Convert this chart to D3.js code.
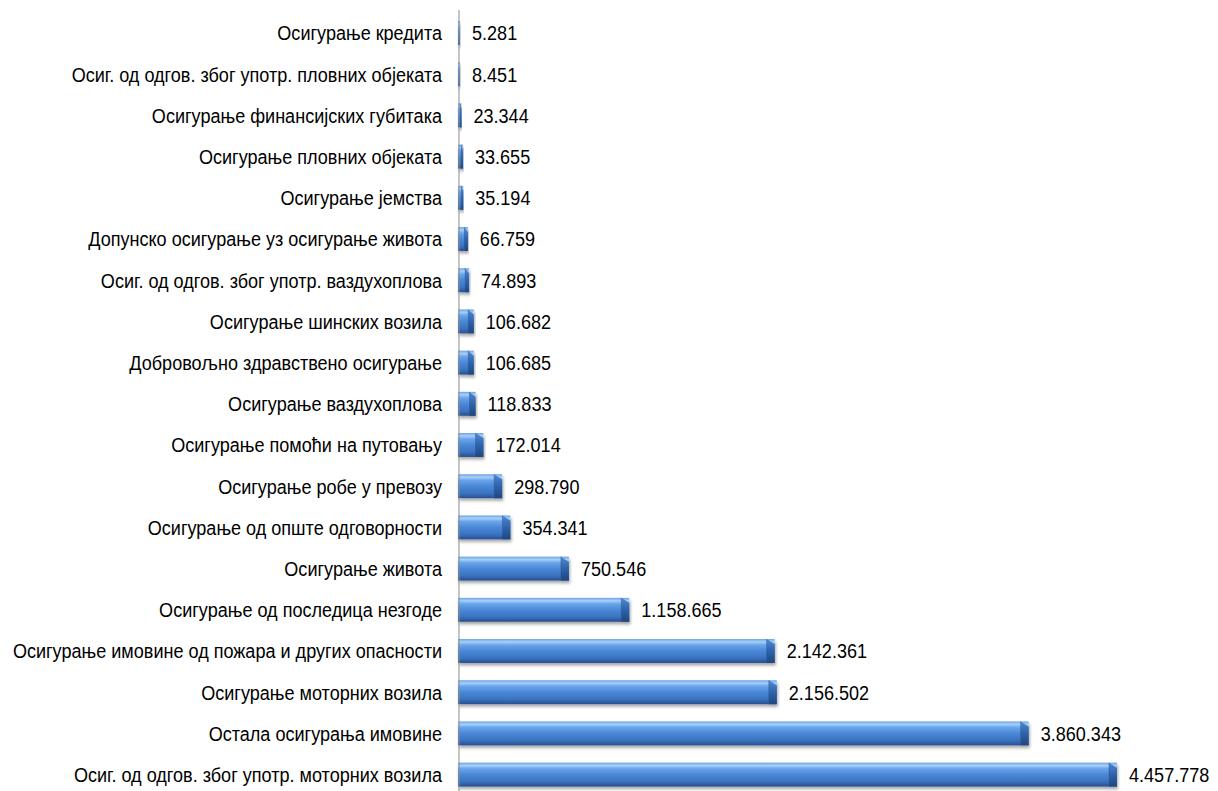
<!DOCTYPE html>
<html>
<head>
<meta charset="utf-8">
<script src="https://cdn.jsdelivr.net/npm/d3@7"></script>
<style>
  html, body { margin: 0; padding: 0; background: #ffffff; }
  svg { display: block; }
  .lbl { font-family: "Liberation Sans", Arial, sans-serif; font-size: 21px; fill: #000; }
</style>
</head>
<body>
<svg id="chart" width="1218" height="791"></svg>
<script>
// Insurance lines, top to bottom
const categories = [
  "Осигурање кредита",
  "Осиг. од одгов. због употр. пловних објеката",
  "Осигурање финансијских губитака",
  "Осигурање пловних објеката",
  "Осигурање јемства",
  "Допунско осигурање уз осигурање живота",
  "Осиг. од одгов. због употр. ваздухоплова",
  "Осигурање шинских возила",
  "Добровољно здравствено осигурање",
  "Осигурање ваздухоплова",
  "Осигурање помоћи на путовању",
  "Осигурање робе у превозу",
  "Осигурање од опште одговорности",
  "Осигурање живота",
  "Осигурање од последица незгоде",
  "Осигурање имовине од пожара и других опасности",
  "Осигурање моторних возила",
  "Остала осигурања имовине",
  "Осиг. од одгов. због употр. моторних возила"
];

const values = [
  5281, 8451, 23344, 33655, 35194, 66759, 74893, 106682, 106685, 118833,
  172014, 298790, 354341, 750546, 1158665, 2142361, 2156502, 3860343, 4457778
];

const svg = d3.select("#chart");
const W = 1218, H = 791;
const axisX = 458;
const squeeze = 0.86; // condensed look for all labels

const x = d3.scaleLinear()
  .domain([0, d3.max(values)])
  .range([axisX, 1117]);

const y = d3.scaleBand()
  .domain(categories)
  .range([12.4, 795.2])
  .paddingInner(0.42)
  .paddingOuter(0.21);

const fmt = d3.formatLocale({ decimal: ",", thousands: ".", grouping: [3], currency: ["", ""] }).format(",d");

// Gradients for the cylinder-like bars
const defs = svg.append("defs");
const face = defs.append("linearGradient").attr("id", "barFace")
  .attr("x1", 0).attr("y1", 0).attr("x2", 0).attr("y2", 1);
[
  [0, "#6aa2e6"], [0.12, "#a8d0f8"], [0.25, "#6aa5ec"], [0.5, "#4a88d6"],
  [0.8, "#3a72c0"], [1, "#264f8e"]
].forEach(([o, c]) => face.append("stop").attr("offset", o).attr("stop-color", c));

const cap = defs.append("linearGradient").attr("id", "barCap")
  .attr("x1", 0).attr("y1", 0).attr("x2", 0).attr("y2", 1);
[
  [0, "#5089d0"], [0.5, "#2f63aa"], [1, "#1f467e"]
].forEach(([o, c]) => cap.append("stop").attr("offset", o).attr("stop-color", c));

const shadow = defs.append("filter").attr("id", "shadow")
  .attr("x", "-5%").attr("y", "-30%").attr("width", "115%").attr("height", "180%");
shadow.append("feDropShadow")
  .attr("dx", 1).attr("dy", 2.5).attr("stdDeviation", 1.6)
  .attr("flood-color", "#000").attr("flood-opacity", 0.35);

const rows = categories.map((c, i) => ({ cat: c, val: values[i] }));

const bars = svg.append("g").selectAll("g.bar")
  .data(rows).join("g").attr("class", "bar")
  .attr("filter", "url(#shadow)");

bars.each(function (d) {
  const g = d3.select(this);
  const x0 = x(0);
  const x1 = Math.max(x0 + 2, x(d.val));
  const top = y(d.cat);
  const bh = y.bandwidth();
  const w = x1 - x0;
  const capW = Math.min(8, w * 0.35);
  g.append("rect")
    .attr("x", x0).attr("y", top)
    .attr("width", w).attr("height", bh)
    .attr("fill", "url(#barFace)");
  if (w > 3) {
    g.append("path")
      .attr("d", `M${x1 - capW},${top} L${x1},${top + bh * 0.22} L${x1},${top + bh} L${x1 - capW},${top + bh} Z`)
      .attr("fill", "url(#barCap)");
    g.append("line")
      .attr("x1", x1 - capW).attr("y1", top)
      .attr("x2", x1 - capW).attr("y2", top + bh)
      .attr("stroke", "#2a5a9a").attr("stroke-width", 0.8).attr("opacity", 0.6);
  }
});

// Vertical category axis line
svg.append("line")
  .attr("x1", axisX + 1).attr("x2", axisX + 1)
  .attr("y1", 10).attr("y2", H)
  .attr("stroke", "#8c8c8c").attr("stroke-width", 1);

// Category labels
svg.append("g").selectAll("text")
  .data(rows).join("text")
  .attr("class", "lbl")
  .attr("transform", d => `translate(442,${y(d.cat) + y.bandwidth() / 2}) scale(${squeeze},1)`)
  .attr("dy", "0.35em")
  .attr("text-anchor", "end")
  .text(d => d.cat);

// Value labels
svg.append("g").selectAll("text")
  .data(rows).join("text")
  .attr("class", "lbl")
  .attr("transform", d => `translate(${Math.max(x(0) + 2, x(d.val)) + 12},${y(d.cat) + y.bandwidth() / 2}) scale(${squeeze},1)`)
  .attr("dy", "0.35em")
  .text(d => fmt(d.val));
</script>
</body>
</html>
